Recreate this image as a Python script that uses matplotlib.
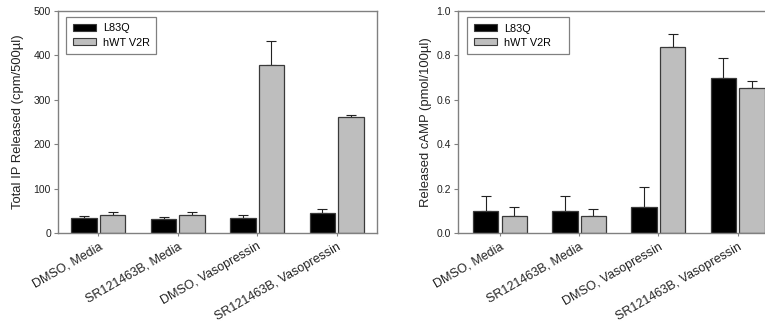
import matplotlib
matplotlib.use("Agg")
import matplotlib.pyplot as plt
import numpy as np
from matplotlib.patches import Patch

plt.rcParams['font.family'] = ['Liberation Sans', 'DejaVu Sans']

categories = ["DMSO, Media", "SR121463B, Media", "DMSO, Vasopressin", "SR121463B, Vasopressin"]
series = ["L83Q", "hWT V2R"]

ip_l83q = [33, 31.5, 34.5, 44]
ip_l83q_err = [5, 3.5, 5.5, 9]
ip_hwt = [40.5, 40, 378, 262]
ip_hwt_err = [6.5, 7, 54, 3]

camp_l83q = [0.10, 0.10, 0.12, 0.697]
camp_l83q_err = [0.07, 0.07, 0.09, 0.093]
camp_hwt = [0.08, 0.08, 0.837, 0.652]
camp_hwt_err = [0.037, 0.028, 0.058, 0.033]

W, H = 765, 324
fig = plt.figure(figsize=(W / 100, H / 100), dpi=100)

colors = ["#000000", "#bebebe"]
edge = "#3a3a3a"
spine_c = "#808080"
bw = 0.32
off = 0.18


def panel(ax, a, a_err, b, b_err, ylim, yticks, yfmt, ylabel, xlim, label_x, leg_box):
    x = np.arange(len(categories))
    for vals, errs, c, sgn in [(a, a_err, colors[0], -1), (b, b_err, colors[1], 1)]:
        xs = x + sgn * off
        ax.bar(xs, vals, width=bw, color=c, edgecolor=edge, linewidth=0.9, zorder=2)
        ax.errorbar(xs, vals, yerr=[np.zeros(len(vals)), errs], fmt='none',
                    ecolor="#222222", elinewidth=0.8, capsize=3.5, capthick=0.8, zorder=1)
    ax.set_xlim(*xlim)
    ax.set_ylim(*ylim)
    ax.set_yticks(yticks)
    ax.set_yticklabels([yfmt.format(v) for v in yticks], fontsize=7.5, color="#222222")
    ax.set_xticks(x)
    ax.set_xticklabels(categories, rotation=30, ha='right', rotation_mode='anchor',
                       fontsize=9, color="#222222")
    ax.tick_params(axis='both', direction='out', length=3, width=0.8, color=spine_c, pad=2)
    ax.tick_params(axis='x', length=2.5, pad=3)
    for s in ax.spines.values():
        s.set_color(spine_c)
        s.set_linewidth(1.0)
    ax.set_ylabel(ylabel, fontsize=9.4, color="#222222")
    ax.yaxis.label.set_verticalalignment('center')
    ax.yaxis.set_label_coords(label_x, 0.5)
    handles = [Patch(facecolor=colors[0], edgecolor=edge, linewidth=0.8),
               Patch(facecolor=colors[1], edgecolor=edge, linewidth=0.8)]
    leg = ax.legend(handles, series, loc='upper left', bbox_to_anchor=leg_box, mode='expand',
                    borderaxespad=0, fontsize=7.8, fancybox=False, framealpha=1,
                    edgecolor=spine_c, handlelength=2.2, handleheight=0.65, handletextpad=0.6,
                    borderpad=0.6, labelspacing=0.38)
    leg.get_frame().set_linewidth(0.9)


ax1 = fig.add_axes([58 / W, 1 - 233 / H, (377 - 58) / W, (233 - 11) / H])
panel(ax1, ip_l83q, ip_l83q_err, ip_hwt, ip_hwt_err, (0, 500), [0, 100, 200, 300, 400, 500],
      "{:.0f}", "Total IP Released (cpm/500\u00b5l)", (-0.51, 3.51),
      (18 - 58) / 319, (8 / 319, 0.5, 90 / 319, 0.473))

ax2 = fig.add_axes([458 / W, 1 - 233.3 / H, 320 / W, (233.3 - 11) / H])
panel(ax2, camp_l83q, camp_l83q_err, camp_hwt, camp_hwt_err, (0, 1.0),
      [0.0, 0.2, 0.4, 0.6, 0.8, 1.0], "{:.1f}", "Released cAMP (pmol/100\u00b5l)", (-0.53, 3.51),
      (426 - 458) / 320, (9 / 320, 0.5, 102 / 320, 0.473))

fig.savefig("out.png", dpi=100)
